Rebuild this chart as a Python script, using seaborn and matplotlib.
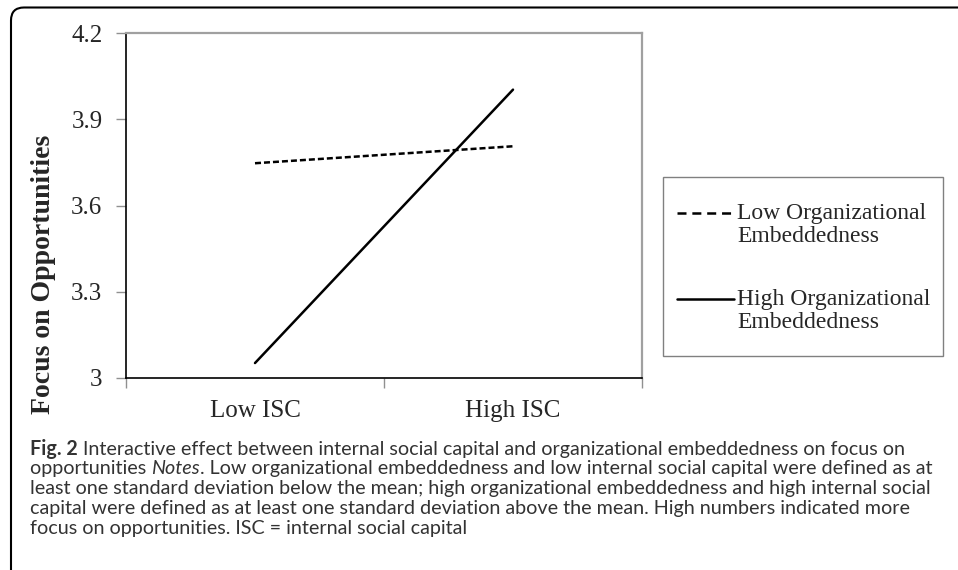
import numpy as np
import pandas as pd
import seaborn as sns
import matplotlib.pyplot as plt
from matplotlib.lines import Line2D
from matplotlib.patches import FancyBboxPatch, Rectangle

# data
isc_levels = ["Low ISC", "High ISC"]
low_emb = [3.747, 3.806]
high_emb = [3.052, 4.003]
group_names = ["Low Organizational\nEmbeddedness", "High Organizational\nEmbeddedness"]
y_ticks = [3.0, 3.3, 3.6, 3.9, 4.2]
y_tick_labels = ["3", "3.3", "3.6", "3.9", "4.2"]

caption_lines = [
    [("Fig. 2", "bold", "normal"),
     (" Interactive effect between internal social capital and organizational embeddedness on focus on", "normal", "normal")],
    [("opportunities ", "normal", "normal"), ("Notes", "normal", "italic"),
     (". Low organizational embeddedness and low internal social capital were defined as at", "normal", "normal")],
    [("least one standard deviation below the mean; high organizational embeddedness and high internal social", "normal", "normal")],
    [("capital were defined as at least one standard deviation above the mean. High numbers indicated more", "normal", "normal")],
    [("focus on opportunities. ISC = internal social capital", "normal", "normal")],
]

sns.set_style("white")
serif = ["Liberation Serif", "DejaVu Serif"]
cap_font = ["Lato", "DejaVu Sans"]

pos = np.arange(len(isc_levels)) + 0.5
df = pd.DataFrame({
    "x": np.concatenate([pos, pos]),
    "y": low_emb + high_emb,
    "group": [group_names[0]] * 2 + [group_names[1]] * 2,
})

W, H = 958, 570
fig = plt.figure(figsize=(W / 100, H / 100), dpi=100)
ax = fig.add_axes([126 / W, 1 - 378 / H, (642 - 126) / W, (378 - 33) / H])

dash_map = {group_names[0]: (2.4, 1.2), group_names[1]: ""}
sns.lineplot(data=df, x="x", y="y", style="group", dashes=dash_map,
             color="black", linewidth=1.8, legend=False, ax=ax)

ax.set_xlim(0, len(isc_levels))
ax.set_ylim(y_ticks[0], y_ticks[-1])
ax.set_yticks(y_ticks)
ax.set_yticklabels(y_tick_labels, family=serif, fontsize=18)
ax.set_xticks(np.arange(len(isc_levels) + 1))
ax.set_xticklabels([])
ax.set_xticks(pos, minor=True)
ax.set_xticklabels(isc_levels, minor=True, family=serif, fontsize=18)
ax.tick_params(axis="x", which="major", direction="out", length=7, width=1, color="#909090", bottom=True)
ax.tick_params(axis="x", which="minor", length=0, pad=16)
ax.tick_params(axis="y", direction="out", length=7, width=1, color="#909090", left=True, pad=10)
ax.set_xlabel("")
ax.set_ylabel("Focus on Opportunities", family=serif, fontsize=20, fontweight="bold")
ax.yaxis.set_label_coords(-0.136, (378 - 274) / 345)

for side in ["left", "bottom"]:
    ax.spines[side].set_color("black")
    ax.spines[side].set_linewidth(1.2)
for side in ["top", "right"]:
    ax.spines[side].set_color("#a0a0a0")
    ax.spines[side].set_linewidth(1.6)

# legend box drawn to the right of the plot
fig.add_artist(Rectangle((663 / W, 1 - 356 / H), (943 - 663) / W, (356 - 177) / H,
                         transform=fig.transFigure, fill=False, ec="#808080", lw=1.0))
leg_rows = [213, 299]
for name, row, dash in zip(group_names, leg_rows, [(2.0, 1.3), None]):
    ln = Line2D([677 / W, 734 / W], [1 - row / H] * 2, transform=fig.transFigure,
                color="black", linewidth=1.8)
    if dash:
        ln.set_dashes([d * 1.8 for d in dash])
    fig.add_artist(ln)
    fig.text(737 / W, 1 - (row - 10) / H, name, family=serif, fontsize=17,
             va="top", ha="left", linespacing=1.15)

# rounded frame round the figure
fig.add_artist(FancyBboxPatch((0.11, -1.0), 12, 5.625 + 1.0,
                              boxstyle="round,pad=0,rounding_size=0.13",
                              transform=fig.dpi_scale_trans, fill=False,
                              ec="black", lw=1.5))

# caption
fig.canvas.draw()
renderer = fig.canvas.get_renderer()
for i, parts in enumerate(caption_lines):
    x = 30 / W
    y = 1 - (449 + i * 19.8) / H
    for txt, weight, style in parts:
        t = fig.text(x, y, txt, family=cap_font, fontsize=14.2, fontweight=weight,
                     fontstyle=style, color="#333333", va="center", ha="left")
        bb = t.get_window_extent(renderer)
        x = bb.x1 / W

fig.savefig("out.png", dpi=100)
